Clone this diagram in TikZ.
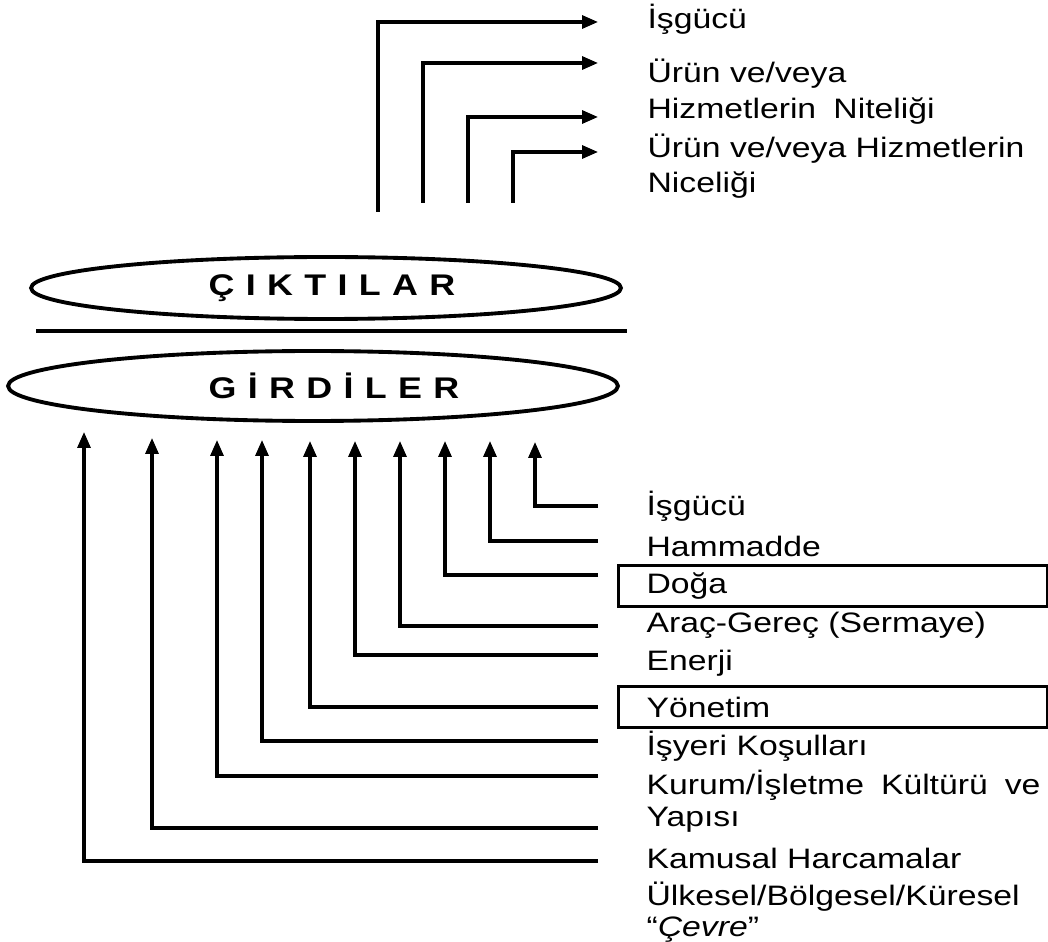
\documentclass[tikz,border=0pt]{standalone}
\usepackage{fontspec}
\setmainfont{Liberation Sans}[FakeStretch=1.2]
\usetikzlibrary{arrows.meta,shapes.geometric}

\begin{document}
\begin{tikzpicture}[x=0.02cm,y=-0.02cm,line width=1.8pt,
    ok/.style={-{Triangle[length=0.32cm,width=0.26cm]}},
    etiket/.style={anchor=west,inner sep=0pt,align=left,font=\fontsize{16}{18}\selectfont},
    kutu/.style={draw,anchor=west,inner xsep=0.56cm,inner ysep=0pt,minimum height=0.82cm,text width=7.46cm,align=left,font=\fontsize{16}{18}\selectfont},
    halka/.style={draw,ellipse,line width=2.2pt,inner sep=0pt},
    baslik/.style={inner sep=0pt,font=\fontsize{17}{20}\selectfont\bfseries\addfontfeature{LetterSpace=38}}]
    \useasboundingbox (0,0) rectangle (1048,942);

    \node[halka,minimum width=11.8cm,minimum height=1.24cm] (cikti) at (326,288) {};
    \node[baslik] (ciktiyazi) at (332,288) {ÇIKTILAR};
    \draw[line width=2.2pt] (36,331) -- (627,331);
    \node[halka,minimum width=12.2cm,minimum height=1.4cm] (girdi) at (313,386) {};
    \node[baslik] (girdiyazi) at (334,386) {GİRDİLER};

    \node[etiket] (o1) at (646,19) {İşgücü};
    \node[etiket] (o2) at (646,74) {Ürün ve/veya};
    \node[etiket] (o3) at (646,111) {Hizmetlerin\hspace{0.28em} Niteliği};
    \node[etiket] (o4) at (646,166) {Ürün ve/veya Hizmetlerin\\[2pt]Niceliği};

    \coordinate (c1) at (378,212);
    \coordinate (c2) at (423,203);
    \coordinate (c3) at (468,203);
    \coordinate (c4) at (513,203);
    \coordinate (u1) at (598,22);
    \coordinate (u2) at (598,63);
    \coordinate (u3) at (598,117);
    \coordinate (u4) at (598,152);
    \draw[ok] (c1) |- (u1);
    \draw[ok] (c2) |- (u2);
    \draw[ok] (c3) |- (u3);
    \draw[ok] (c4) |- (u4);

    \node[etiket] (i1) at (645,506) {İşgücü};
    \node[etiket] (i2) at (645,546) {Hammadde};
    \node[kutu] (i3) at (617,586) {Doğa};
    \node[etiket] (i4) at (645,625) {Araç-Gereç (Sermaye)};
    \node[etiket] (i5) at (645,663) {Enerji};
    \node[kutu] (i6) at (617,707) {Yönetim};
    \node[etiket] (i7) at (645,746) {İşyeri Koşulları};
    \node[etiket] (i8) at (645,801) {\makebox[7.88cm][s]{Kurum/İşletme Kültürü ve}\\Yapısı};
    \node[etiket] (i9) at (645,858) {Kamusal Harcamalar};
    \node[etiket] (i10) at (645,912) {Ülkesel/Bölgesel/Küresel\\“\textit{Çevre}”};

    \coordinate (k1) at (598,506);
    \coordinate (k2) at (598,541);
    \coordinate (k3) at (598,575);
    \coordinate (k4) at (598,626);
    \coordinate (k5) at (598,655);
    \coordinate (k6) at (598,707);
    \coordinate (k7) at (598,741);
    \coordinate (k8) at (598,776);
    \coordinate (k9) at (598,828);
    \coordinate (k10) at (598,861);
    \coordinate (g1) at (535,442);
    \coordinate (g2) at (490,441);
    \coordinate (g3) at (445,441);
    \coordinate (g4) at (400,441);
    \coordinate (g5) at (355,441);
    \coordinate (g6) at (310,441);
    \coordinate (g7) at (262,440);
    \coordinate (g8) at (217,440);
    \coordinate (g9) at (152,438);
    \coordinate (g10) at (84,432);
    \draw[ok] (k1) -| (g1);
    \draw[ok] (k2) -| (g2);
    \draw[ok] (k3) -| (g3);
    \draw[ok] (k4) -| (g4);
    \draw[ok] (k5) -| (g5);
    \draw[ok] (k6) -| (g6);
    \draw[ok] (k7) -| (g7);
    \draw[ok] (k8) -| (g8);
    \draw[ok] (k9) -| (g9);
    \draw[ok] (k10) -| (g10);
\end{tikzpicture}
\end{document}
